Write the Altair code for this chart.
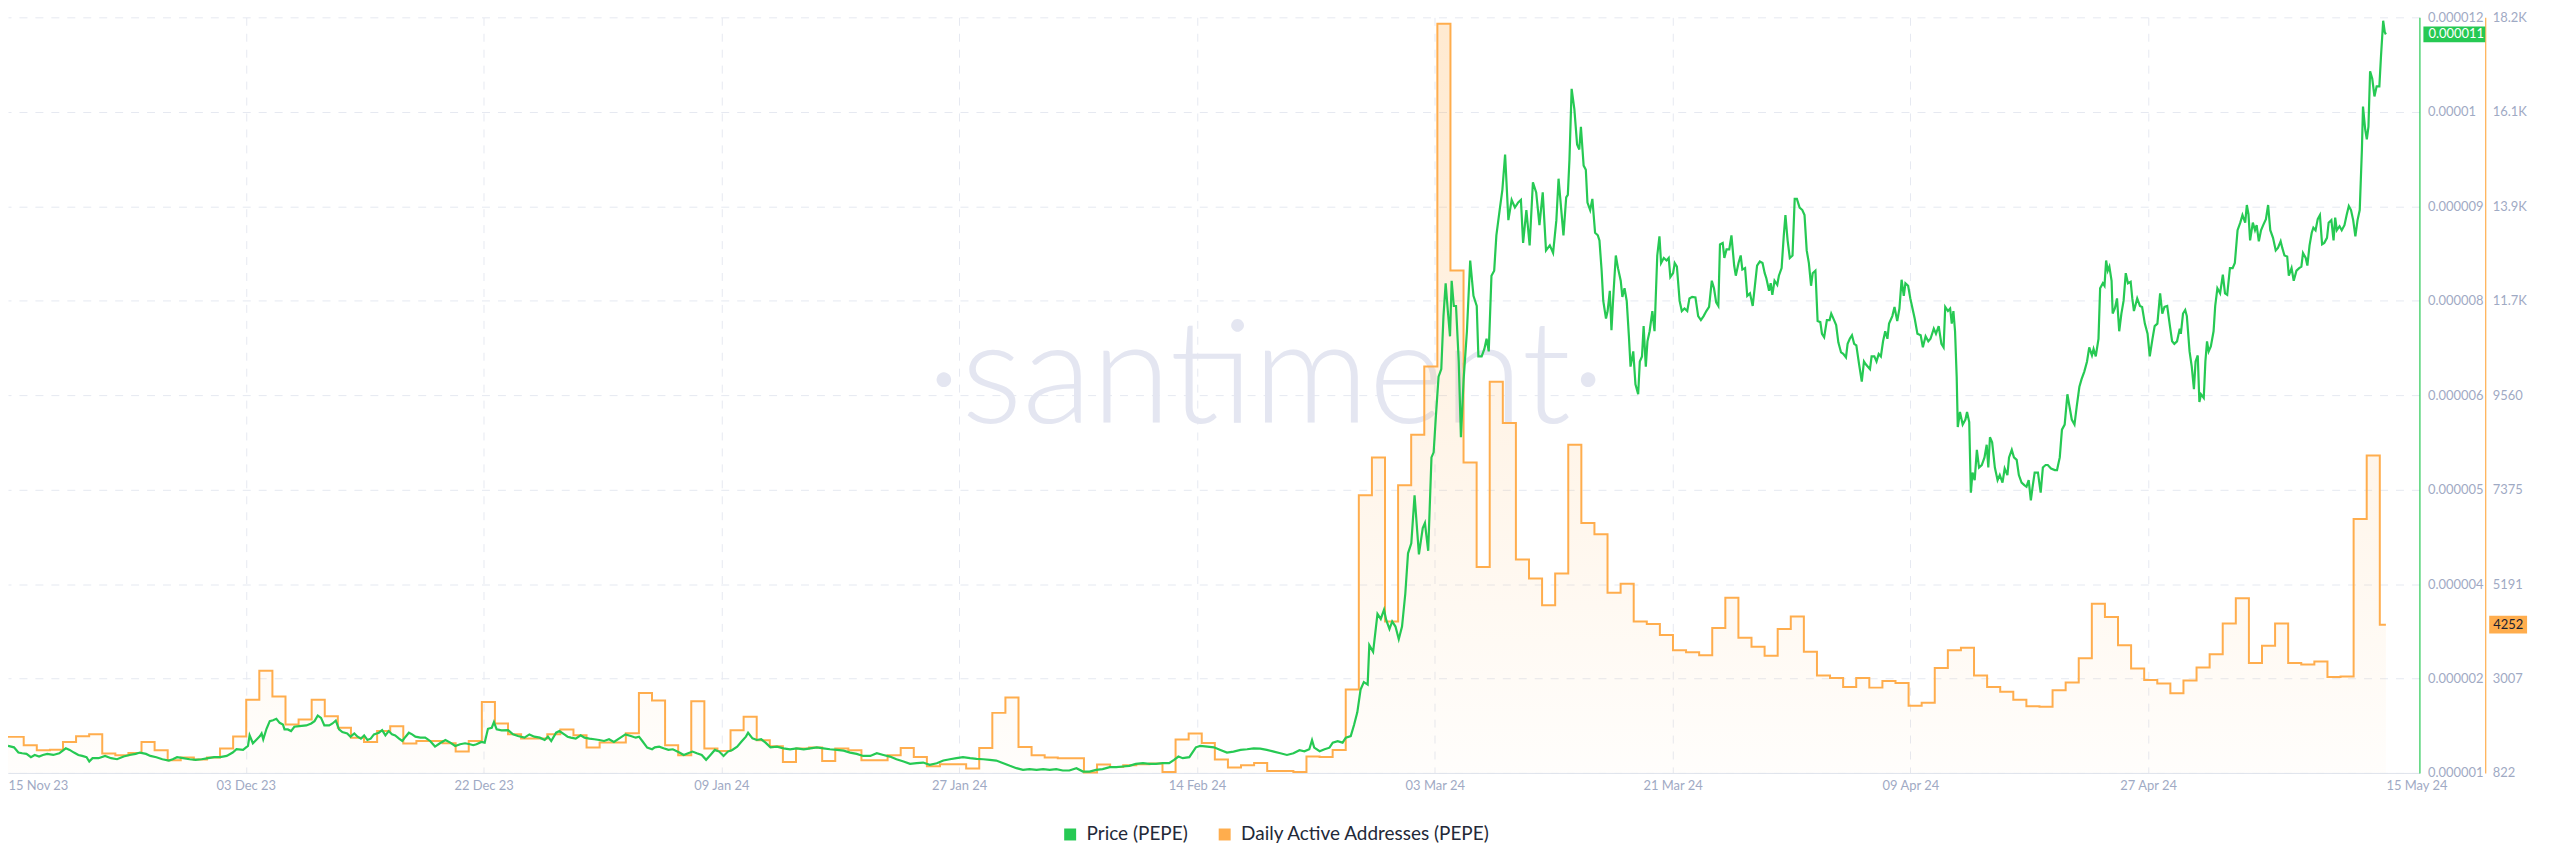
import altair as alt
import pandas as pd

# ---------------- data ----------------
chart_start = "2023-11-15T19:12:00Z"      # left edge of the time axis
daa_first_day = "2023-11-16T00:00:00Z"    # first daily DAA value
x_pad_days = 2.56                          # empty room right of the last point

series_names = ["Price (PEPE)", "Daily Active Addresses (PEPE)"]
series_colors = ["#26c953", "#ffad4d"]

x_tick_labels = ["15 Nov 23", "03 Dec 23", "22 Dec 23", "09 Jan 24", "27 Jan 24",
                 "14 Feb 24", "03 Mar 24", "21 Mar 24", "09 Apr 24", "27 Apr 24", "15 May 24"]
price_tick_labels = ["0.000001", "0.000002", "0.000004", "0.000005", "0.000006",
                     "0.000008", "0.000009", "0.00001", "0.000012"]
daa_tick_labels = ["822", "3007", "5191", "7375", "9560", "11.7K", "13.9K", "16.1K", "18.2K"]
price_axis_min, price_axis_max = 1.0e-6, 11.8e-6
daa_axis_min, daa_axis_max = 822, 18298

# Daily Active Addresses, one value per day (Nov 16 2023 ... May 15 2024)
daa_nov16_dec02 = [1656, 1463, 1347, 1360, 1540, 1671, 1717, 1270, 1231, 1285, 1540, 1347,
                   1115, 1177, 1131, 1177, 1385]
daa_dec03_jan04 = [1662, 2515, 3185, 2590, 1943, 2057, 2515, 2133, 1867, 1638, 1538, 1790,
                   1904, 1500, 1561, 1561, 1508, 1318, 1561, 2462, 1966, 1714, 1616, 1616,
                   1714, 1828, 1691, 1410, 1524, 1524, 1737, 2668, 2500]
daa_jan05_feb25 = [1463, 1231, 2482, 1385, 1331, 1810, 2119, 1578, 1440, 1077, 1385, 1409,
                   1100, 1385, 1347, 1115, 1115, 1231, 1401, 1193, 976, 1023, 1023, 922,
                   1401, 2211, 2566, 1424, 1231, 1177, 1162, 1162, 830, 1015, 961, 1000,
                   1023, 1038, 845, 1594, 1733, 1517, 1131, 946, 1000, 1054, 868, 868,
                   845, 1200, 1190, 1350]
daa_feb26_mar16 = [2749, 7244, 8120, 4325, 7477, 8645, 10221, 18150, 12440, 8003, 5586, 9871,
                   8913, 5761, 5317, 4698, 5434, 8411, 6602, 6345]
daa_mar17_apr05 = [4990, 5200, 4325, 4266, 4010, 3659, 3613, 3543, 4173, 4874, 3951, 3741,
                   3531, 4150, 4442, 3624, 3075, 3017, 2807, 3017]
daa_apr06_apr26 = [2795, 2947, 2900, 2375, 2445, 3251, 3659, 3718, 3075, 2807, 2702, 2515,
                   2363, 2352, 2737, 2912, 3472, 4733, 4430, 3776, 3239]
daa_apr27_may15 = [2970, 2889, 2667, 2959, 3262, 3566, 4278, 4862, 3367, 3764, 4278, 3367,
                   3332, 3402, 3040, 3052, 6695, 8166, 4252]

# Price (PEPE) in millionths of a dollar: (hours after chart_start, price)
price_nov = [(0, 1.386), (11, 1.366), (19, 1.291), (26, 1.281), (34, 1.272), (42, 1.225), (49, 1.257),
             (57, 1.234), (64, 1.257), (72, 1.272), (83, 1.257), (94, 1.281), (106, 1.352), (113, 1.329),
             (121, 1.291), (129, 1.257), (136, 1.243), (144, 1.225), (149, 1.163), (155, 1.211),
             (166, 1.211), (178, 1.243), (189, 1.211), (200, 1.196), (212, 1.234), (223, 1.257),
             (234, 1.272), (242, 1.291), (253, 1.272), (261, 1.243), (272, 1.225), (283, 1.196),
             (295, 1.177), (302, 1.196), (310, 1.225), (321, 1.211), (333, 1.196), (344, 1.187),
             (355, 1.196), (367, 1.211), (378, 1.225), (389, 1.225), (401, 1.243), (412, 1.291)]
price_dec = [(419, 1.339), (431, 1.330), (440, 1.386), (443, 1.537), (449, 1.424), (455, 1.471),
             (462, 1.528), (465, 1.565), (468, 1.481), (474, 1.631), (480, 1.740), (486, 1.754),
             (492, 1.773), (498, 1.716), (504, 1.693), (507, 1.622), (513, 1.622), (519, 1.598),
             (525, 1.660), (534, 1.669), (547, 1.679), (556, 1.707), (562, 1.740), (568, 1.820),
             (574, 1.787), (580, 1.679), (589, 1.679), (595, 1.707), (601, 1.749), (607, 1.622),
             (613, 1.584), (622, 1.565), (628, 1.518), (635, 1.565), (641, 1.518), (647, 1.490),
             (653, 1.537), (659, 1.471), (665, 1.490), (671, 1.551), (680, 1.575), (686, 1.612),
             (692, 1.537), (698, 1.598), (704, 1.551), (710, 1.537), (717, 1.490), (723, 1.457),
             (729, 1.518), (735, 1.575), (741, 1.551), (747, 1.518), (756, 1.504), (765, 1.504),
             (774, 1.457), (783, 1.377), (792, 1.424), (802, 1.471), (811, 1.433), (820, 1.386),
             (829, 1.410), (838, 1.424), (847, 1.410), (853, 1.396), (859, 1.410), (868, 1.443),
             (874, 1.433), (880, 1.631), (887, 1.646), (891, 1.726), (896, 1.622), (905, 1.608),
             (917, 1.612), (926, 1.551), (935, 1.528), (947, 1.504), (956, 1.551), (965, 1.518),
             (975, 1.504), (984, 1.471), (990, 1.518), (996, 1.457), (1005, 1.575), (1011, 1.598),
             (1020, 1.551), (1026, 1.518), (1032, 1.504), (1041, 1.490), (1050, 1.537), (1057, 1.504),
             (1066, 1.490), (1075, 1.481), (1084, 1.471), (1093, 1.457), (1102, 1.481), (1111, 1.443),
             (1123, 1.504), (1132, 1.551), (1142, 1.528), (1151, 1.504), (1157, 1.518), (1163, 1.457),
             (1172, 1.363), (1181, 1.339)]
price_jan_feb = [(1186, 1.366), (1194, 1.376), (1202, 1.352), (1211, 1.329), (1219, 1.338), (1231, 1.291),
                 (1239, 1.257), (1247, 1.281), (1255, 1.305), (1263, 1.281), (1272, 1.257), (1280, 1.187),
                 (1288, 1.257), (1296, 1.329), (1304, 1.305), (1312, 1.243), (1320, 1.305), (1328, 1.329),
                 (1337, 1.376), (1345, 1.448), (1353, 1.519), (1357, 1.575), (1365, 1.495), (1373, 1.471),
                 (1381, 1.481), (1389, 1.433), (1398, 1.366), (1410, 1.376), (1422, 1.352), (1434, 1.338),
                 (1446, 1.352), (1459, 1.338), (1471, 1.352), (1483, 1.366), (1495, 1.352), (1507, 1.338),
                 (1520, 1.329), (1532, 1.319), (1544, 1.291), (1556, 1.272), (1568, 1.243), (1581, 1.243),
                 (1593, 1.281), (1605, 1.257), (1617, 1.234), (1629, 1.196), (1642, 1.163), (1654, 1.130),
                 (1666, 1.139), (1678, 1.148), (1690, 1.116), (1703, 1.139), (1715, 1.177), (1727, 1.196),
                 (1739, 1.211), (1751, 1.225), (1764, 1.211), (1776, 1.201), (1788, 1.196), (1800, 1.187),
                 (1812, 1.177), (1825, 1.139), (1837, 1.102), (1849, 1.068), (1861, 1.044), (1873, 1.054),
                 (1886, 1.044), (1898, 1.054), (1910, 1.044), (1922, 1.054), (1934, 1.035), (1946, 1.035),
                 (1959, 1.068), (1971, 1.020), (1983, 1.020), (1995, 1.044), (2007, 1.054), (2020, 1.082),
                 (2032, 1.082), (2044, 1.092), (2056, 1.102), (2068, 1.130), (2081, 1.139), (2093, 1.130),
                 (2105, 1.130), (2117, 1.139), (2129, 1.139), (2138, 1.187), (2146, 1.234), (2154, 1.211),
                 (2166, 1.225), (2178, 1.366), (2186, 1.386), (2199, 1.376), (2211, 1.366), (2223, 1.329),
                 (2235, 1.291), (2247, 1.305), (2260, 1.329), (2272, 1.338), (2284, 1.352), (2296, 1.348),
                 (2308, 1.329), (2321, 1.305), (2333, 1.281), (2345, 1.257), (2357, 1.281)]
price_feb_mar = [(2368, 1.325), (2377, 1.310), (2386, 1.339), (2391, 1.469), (2395, 1.361), (2405, 1.310),
                 (2414, 1.339), (2423, 1.361), (2429, 1.433), (2438, 1.455), (2447, 1.433), (2453, 1.505),
                 (2462, 1.527), (2468, 1.685), (2474, 1.866), (2480, 2.191), (2486, 2.299), (2493, 2.263),
                 (2496, 2.826), (2503, 2.732), (2511, 3.273), (2517, 3.201), (2523, 3.331), (2527, 3.186),
                 (2533, 3.056), (2538, 3.165), (2544, 3.092), (2550, 2.912), (2556, 3.092), (2562, 3.561),
                 (2567, 4.139), (2573, 4.283), (2579, 4.968), (2587, 4.124), (2594, 4.500), (2598, 4.572),
                 (2604, 4.175), (2610, 5.510), (2614, 5.582), (2618, 6.087), (2623, 6.664), (2628, 6.772),
                 (2632, 7.530), (2636, 7.999), (2640, 7.602), (2644, 7.241), (2647, 8.035), (2651, 7.674),
                 (2655, 7.674), (2660, 6.881), (2664, 5.798), (2669, 6.628), (2675, 7.313), (2681, 8.324),
                 (2687, 7.819), (2693, 7.674), (2696, 6.953), (2702, 6.953), (2707, 7.061), (2711, 7.205),
                 (2715, 7.025), (2720, 8.107), (2725, 8.179), (2729, 8.684), (2735, 9.045), (2740, 9.334),
                 (2745, 9.839), (2751, 8.901), (2757, 9.189), (2763, 9.081), (2769, 9.153), (2774, 9.189),
                 (2778, 8.576), (2784, 9.045), (2790, 8.540), (2796, 9.442), (2802, 9.298), (2808, 8.829),
                 (2814, 9.298), (2820, 8.468), (2827, 8.540), (2833, 8.432), (2839, 8.901), (2843, 9.493),
                 (2848, 9.045), (2852, 8.684), (2857, 9.226), (2860, 9.262), (2863, 9.767), (2867, 10.777),
                 (2872, 10.488), (2877, 9.983), (2881, 9.911), (2884, 10.236), (2889, 9.680), (2893, 9.622),
                 (2896, 9.153), (2901, 9.045), (2905, 9.204), (2910, 8.721), (2915, 8.684)]
price_mar_apr = [(2918, 8.612), (2922, 8.179), (2925, 7.746), (2930, 7.494), (2933, 7.602), (2937, 7.891),
                 (2940, 7.328), (2944, 7.891), (2948, 8.396), (2952, 8.215), (2957, 8.035), (2960, 7.804),
                 (2964, 7.927), (2968, 7.746), (2972, 7.241), (2975, 6.808), (2980, 7.025), (2984, 6.556),
                 (2989, 6.412), (2992, 6.881), (2996, 6.953), (2999, 7.386), (3003, 6.808), (3006, 7.169),
                 (3010, 7.313), (3015, 7.602), (3019, 7.313), (3024, 8.396), (3028, 8.670), (3031, 8.288),
                 (3036, 8.360), (3041, 8.324), (3045, 8.360), (3048, 8.086), (3053, 8.143), (3056, 8.288),
                 (3060, 8.237), (3065, 7.746), (3069, 7.602), (3074, 7.638), (3079, 7.602), (3083, 7.782),
                 (3088, 7.804), (3094, 7.797), (3099, 7.530), (3104, 7.472), (3109, 7.530), (3114, 7.602),
                 (3119, 7.660), (3124, 8.035), (3128, 7.927), (3132, 7.725), (3136, 7.674), (3139, 8.555),
                 (3144, 8.576), (3147, 8.360), (3151, 8.482), (3156, 8.482), (3160, 8.684), (3165, 8.252),
                 (3168, 8.107), (3173, 8.288), (3177, 8.396), (3180, 8.194), (3185, 8.215), (3189, 7.819),
                 (3194, 7.855), (3199, 7.674), (3203, 7.963), (3207, 8.252), (3212, 8.309), (3217, 8.288),
                 (3221, 8.143), (3224, 8.071), (3229, 7.891), (3232, 7.999), (3235, 7.833), (3239, 8.035),
                 (3244, 7.977), (3247, 8.107), (3252, 8.215), (3256, 8.684), (3259, 8.973), (3263, 8.612),
                 (3267, 8.360), (3272, 8.396), (3276, 9.204), (3280, 9.204), (3285, 9.081), (3290, 9.045),
                 (3294, 8.973), (3298, 8.468), (3302, 8.288), (3306, 7.963), (3309, 8.143), (3314, 8.179),
                 (3318, 7.458), (3323, 7.443), (3326, 7.277), (3330, 7.227), (3335, 7.472), (3340, 7.472),
                 (3343, 7.566), (3347, 7.494), (3352, 7.400), (3356, 7.155), (3361, 7.010), (3365, 6.989),
                 (3370, 6.938), (3373, 7.133), (3377, 7.205), (3381, 7.256), (3385, 7.133), (3389, 7.111),
                 (3394, 6.844), (3399, 6.592), (3403, 6.881), (3406, 6.844)]
price_apr = [(3414, 6.772), (3417, 6.953), (3422, 6.953), (3426, 6.881), (3430, 6.989), (3434, 6.953),
             (3438, 7.169), (3442, 7.313), (3446, 7.205), (3449, 7.422), (3455, 7.530), (3459, 7.660),
             (3464, 7.458), (3468, 7.638), (3472, 8.049), (3476, 7.819), (3479, 7.999), (3484, 7.963),
             (3488, 7.782), (3493, 7.602), (3496, 7.494), (3501, 7.277), (3507, 7.256), (3511, 7.083),
             (3516, 7.241), (3521, 7.169), (3525, 7.205), (3531, 7.350), (3535, 7.277), (3540, 7.386),
             (3545, 7.133), (3549, 7.083), (3552, 7.660), (3557, 7.602), (3561, 7.638), (3564, 7.422),
             (3567, 7.602), (3570, 7.313), (3573, 6.664), (3575, 5.943), (3579, 6.159), (3584, 5.979),
             (3589, 6.051), (3592, 6.159), (3596, 6.015), (3599, 5.005), (3602, 5.293), (3606, 5.185),
             (3610, 5.618), (3614, 5.365), (3619, 5.401), (3624, 5.510), (3628, 5.690), (3631, 5.365),
             (3634, 5.798), (3638, 5.726), (3643, 5.365), (3648, 5.185), (3652, 5.257), (3657, 5.149),
             (3661, 5.351), (3666, 5.257), (3669, 5.510), (3674, 5.618), (3678, 5.510), (3683, 5.474),
             (3687, 5.257), (3692, 5.149), (3697, 5.113), (3701, 5.091), (3705, 5.185), (3709, 4.896),
             (3712, 5.077), (3716, 5.293), (3722, 5.293), (3727, 5.005), (3731, 5.365), (3736, 5.401),
             (3740, 5.401), (3746, 5.351), (3753, 5.329), (3757, 5.329), (3762, 5.510), (3766, 5.907),
             (3771, 5.979), (3776, 6.412), (3780, 6.231), (3784, 6.051), (3789, 5.979), (3793, 6.231),
             (3798, 6.520), (3802, 6.628), (3807, 6.736), (3812, 6.881), (3816, 7.083), (3821, 6.967),
             (3824, 7.061), (3828, 6.953), (3833, 7.205), (3836, 7.927), (3841, 7.999), (3844, 7.963),
             (3847, 8.324), (3850, 8.179), (3853, 8.237), (3857, 8.035), (3859, 7.566), (3863, 7.638),
             (3867, 7.782), (3871, 7.313), (3875, 7.566), (3879, 7.746), (3883, 8.143), (3887, 7.999),
             (3892, 8.021), (3895, 7.782), (3898, 7.602)]
price_may = [(3904, 7.782), (3909, 7.674), (3913, 7.660), (3918, 7.422), (3923, 7.277), (3927, 6.953),
             (3932, 7.205), (3936, 7.386), (3941, 7.422), (3946, 7.855), (3950, 7.566), (3954, 7.660),
             (3959, 7.674), (3964, 7.386), (3968, 7.169), (3972, 7.133), (3977, 7.169), (3982, 7.350),
             (3984, 7.277), (3988, 7.566), (3992, 7.617), (3995, 7.530), (4000, 7.025), (4004, 6.808),
             (4008, 6.484), (4011, 6.881), (4015, 6.967), (4018, 6.303), (4021, 6.412), (4026, 6.361),
             (4029, 6.881), (4032, 7.169), (4035, 7.025), (4039, 7.097), (4044, 7.313), (4047, 7.674),
             (4051, 7.927), (4056, 7.855), (4061, 8.122), (4065, 7.855), (4069, 7.833), (4074, 8.215),
             (4079, 8.215), (4083, 8.288), (4088, 8.757), (4093, 8.865), (4097, 8.973), (4102, 8.865),
             (4105, 9.117), (4108, 8.987), (4111, 8.612), (4116, 8.865), (4120, 8.757), (4123, 8.829),
             (4127, 8.598), (4131, 8.757), (4135, 8.829), (4140, 8.915), (4144, 9.117), (4148, 8.757),
             (4153, 8.648), (4158, 8.468), (4162, 8.504), (4167, 8.598), (4170, 8.504), (4174, 8.396),
             (4179, 8.381), (4182, 8.107), (4187, 8.215), (4191, 8.035), (4196, 8.179), (4201, 8.215),
             (4205, 8.237), (4208, 8.432), (4213, 8.360), (4216, 8.252), (4220, 8.540), (4224, 8.721),
             (4227, 8.793), (4231, 8.757), (4235, 8.915), (4239, 8.973), (4243, 8.555), (4247, 8.576),
             (4252, 8.648), (4255, 8.865), (4260, 8.901), (4264, 8.612), (4267, 8.937), (4270, 8.757),
             (4275, 8.814), (4279, 8.757), (4284, 8.829), (4288, 8.973), (4292, 9.103), (4296, 9.045),
             (4300, 8.901), (4304, 8.670), (4308, 8.901), (4312, 9.045), (4316, 9.911), (4318, 10.524),
             (4322, 10.200), (4325, 10.055), (4328, 10.236), (4331, 11.029), (4335, 10.921), (4339, 10.669),
             (4343, 10.813), (4348, 10.813), (4351, 11.246), (4355, 11.751), (4358, 11.585), (4360, 11.556)]
watermark_text = "\u00b7santiment\u00b7"

# ---------------- tables ----------------
HOUR = 3_600_000
DAY = 86_400_000
t0 = pd.Timestamp(chart_start).value // 10**6

price_pts = price_nov + price_dec + price_jan_feb + price_feb_mar + price_mar_apr + price_apr + price_may
price_df = pd.DataFrame({"t": [t0 + h * HOUR for h, _ in price_pts],
                         "price": [p * 1e-6 for _, p in price_pts]})
t_end = int(price_df["t"].iloc[-1])

daa_all = (daa_nov16_dec02 + daa_dec03_jan04 + daa_jan05_feb25 + daa_feb26_mar16 +
           daa_mar17_apr05 + daa_apr06_apr26 + daa_apr27_may15)
d0 = pd.Timestamp(daa_first_day).value // 10**6
daa_t = [d0 + i * DAY for i in range(len(daa_all))]
daa_t[0] = t0
daa_df = pd.DataFrame({"t": daa_t + [t_end], "daa": daa_all + [daa_all[-1]]})

price_last = price_df.tail(1)
daa_last = pd.DataFrame({"t": [t_end], "daa": [daa_all[-1]]})

x_end = t_end + x_pad_days * DAY
tick_step = (t_end - t0) / (len(x_tick_labels) - 1)
x_ticks = [t0 + i * tick_step for i in range(len(x_tick_labels))]

price_step = (price_axis_max - price_axis_min) / (len(price_tick_labels) - 1)
price_ticks = [price_axis_min + i * price_step for i in range(len(price_tick_labels))]
daa_step = (daa_axis_max - daa_axis_min) / (len(daa_tick_labels) - 1)
daa_ticks = [daa_axis_min + i * daa_step for i in range(len(daa_tick_labels))]

# ---------------- styling ----------------
W, H = 2419, 758
FONT = "Lato"
LABEL = "#9faac4"
GRID = "#e6e9f1"

edge_test = f"toNumber(datum.value) < {t0 + tick_step / 2} || toNumber(datum.value) > {t_end - tick_step / 2}"
x_axis = alt.Axis(
    values=x_ticks,
    labelExpr=f"{x_tick_labels}[round((toNumber(datum.value) - {t0}) / {tick_step})]",
    labelAlign={"condition": {"test": edge_test, "value": "left"}, "value": "center"},
    gridOpacity={"condition": {"test": edge_test, "value": 0}, "value": 1},
    grid=True, gridColor=GRID, gridDash=[8, 8], gridWidth=1,
    ticks=False, domainColor="#dfe3ec", domainWidth=1,
    labelColor=LABEL, labelFont=FONT, labelFontSize=13, labelPadding=7,
    labelFlush=False, labelOverlap=False, labelBound=False, title=None,
)


def xenc():
    return alt.X("t:T", scale=alt.Scale(domain=[t0, x_end], nice=False), axis=x_axis, title=None)


price_y_axis = alt.Axis(
    orient="right", offset=0, values=price_ticks,
    labelExpr=f"{price_tick_labels}[round((datum.value - {price_axis_min}) / {price_step})]",
    ticks=False, domainColor=series_colors[0], domainWidth=1.2,
    labelColor=LABEL, labelFont=FONT, labelFontSize=13, labelPadding=8,
    labelAlign="left", labelBaseline="middle", labelOverlap=False, labelFlush=False, labelBound=False,
    grid=True, gridColor=GRID, gridDash=[8, 8], gridWidth=1, title=None,
)
daa_y_axis = alt.Axis(
    orient="right", offset=66, values=daa_ticks,
    labelExpr=f"{daa_tick_labels}[round((datum.value - {daa_axis_min}) / {daa_step})]",
    ticks=False, domainColor=series_colors[1], domainWidth=1.2,
    labelColor=LABEL, labelFont=FONT, labelFontSize=13, labelPadding=7,
    labelAlign="left", labelBaseline="middle", labelOverlap=False, labelFlush=False, labelBound=False,
    grid=False, title=None,
)
price_scale = alt.Scale(domain=[price_axis_min, price_axis_max], nice=False, zero=False)
daa_scale = alt.Scale(domain=[daa_axis_min, daa_axis_max], nice=False, zero=False)


def py():
    return alt.Y("price:Q", scale=price_scale, axis=price_y_axis, title=None)


def dy():
    return alt.Y("daa:Q", scale=daa_scale, axis=daa_y_axis, title=None)


# ---------------- layers ----------------
watermark = alt.Chart(pd.DataFrame({"w": [watermark_text]})).mark_text(
    font=FONT, fontSize=144, fontWeight=300, color="#e4e6f1", align="center", baseline="alphabetic"
).encode(text="w:N", x=alt.value(1262), y=alt.value(407))

legend_layer = alt.Chart(pd.DataFrame({"series": series_names})).mark_rect().encode(
    x=alt.value(0), x2=alt.value(0), y=alt.value(0), y2=alt.value(0),
    color=alt.Color("series:N", scale=alt.Scale(domain=series_names, range=series_colors),
                    legend=alt.Legend(orient="none", legendX=1056, legendY=810, direction="horizontal",
                                      title=None, symbolType="square", symbolSize=144, symbolStrokeWidth=0,
                                      labelFont=FONT, labelFontSize=19, labelColor="#232938",
                                      labelLimit=0, labelOffset=7, columnPadding=27, padding=0)),
)

gradient = alt.Gradient(
    gradient="linear",
    stops=[alt.GradientStop(color="rgba(255,173,77,0.26)", offset=0),
           alt.GradientStop(color="rgba(255,173,77,0.02)", offset=1)],
    x1=0, x2=0, y1=0, y2=1,
)
daa_base = alt.Chart(daa_df)
daa_area = daa_base.mark_area(interpolate="step-after", color=gradient).encode(
    x=xenc(), y=dy(), y2=alt.datum(daa_axis_min))
daa_line = daa_base.mark_line(interpolate="step-after", color=series_colors[1], strokeWidth=2).encode(
    x=xenc(), y=dy())
daa_flag = alt.Chart(daa_last).mark_rect(color=series_colors[1], yOffset=-9, y2Offset=9).encode(
    x=alt.value(W + 70), x2=alt.value(W + 108), y=dy(), y2="daa:Q")
daa_flag_text = alt.Chart(daa_last).mark_text(
    align="left", baseline="middle", font=FONT, fontSize=13, color="#1b2030"
).encode(x=alt.value(W + 74), y=dy(), text=alt.Text("daa:Q", format="d"))
daa_group = alt.layer(daa_area, daa_line, daa_flag, daa_flag_text)

price_line = alt.Chart(price_df).mark_line(color=series_colors[0], strokeWidth=2.2).encode(
    x=xenc(), y=py())
price_flag = alt.Chart(price_last).mark_rect(color=series_colors[0], yOffset=-8, y2Offset=8).encode(
    x=alt.value(W + 4), x2=alt.value(W + 66), y=py(), y2="price:Q")
price_flag_text = alt.Chart(price_last).transform_calculate(
    lbl="format(floor(datum.price * 1e6) / 1e6, '.6f')"
).mark_text(align="left", baseline="middle", font=FONT, fontSize=13, color="white").encode(
    x=alt.value(W + 9), y=py(), text="lbl:N")
price_group = alt.layer(price_line, price_flag, price_flag_text)

chart = alt.layer(watermark, legend_layer, daa_group, price_group).resolve_scale(
    y="independent"
).properties(
    width=W, height=H,
    padding={"left": 0, "top": 8, "right": 133, "bottom": 86},
    autosize=alt.AutoSizeParams(type="none"),
    background="white",
).configure_view(stroke=None)

chart.save("out.html", embed_options={"renderer": "svg", "actions": False})
